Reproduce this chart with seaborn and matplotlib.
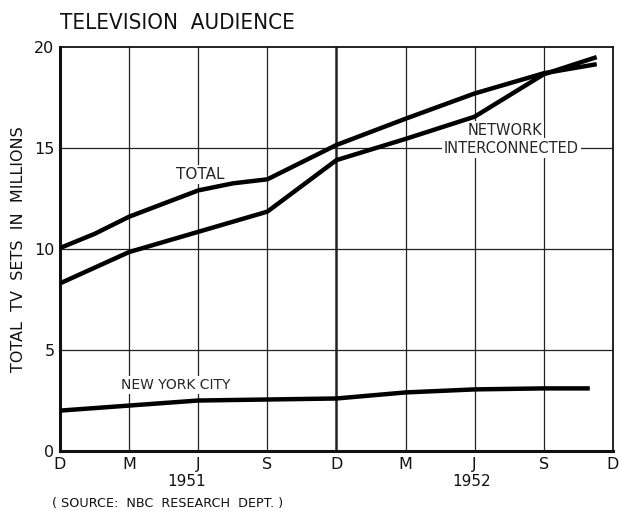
import matplotlib
matplotlib.use("Agg")
import matplotlib.pyplot as plt
import seaborn as sns
import pandas as pd

# months since Dec 1950
total_months = [0, 1.5, 3, 6, 7.5, 9, 12, 15, 18, 21, 23.3]
total_vals = [10.05, 10.75, 11.6, 12.9, 13.25, 13.45, 15.15, 16.45, 17.7, 18.7, 19.15]

network_months = [0, 3, 6, 9, 12, 15, 18, 21, 23.3]
network_vals = [8.3, 9.85, 10.85, 11.85, 14.4, 15.45, 16.55, 18.65, 19.5]

nyc_months = [0, 3, 6, 9, 12, 15, 18, 21, 23.0]
nyc_vals = [2.0, 2.25, 2.5, 2.55, 2.6, 2.9, 3.05, 3.1, 3.1]

x_ticks = [0, 3, 6, 9, 12, 15, 18, 21, 24]
x_labels = ["D", "M", "J", "S", "D", "M", "J", "S", "D"]
y_ticks = [0, 5, 10, 15, 20]
years = ["1951", "1952"]

df = pd.concat([
    pd.DataFrame({"month": total_months, "sets": total_vals, "series": "TOTAL"}),
    pd.DataFrame({"month": network_months, "sets": network_vals, "series": "NETWORK"}),
    pd.DataFrame({"month": nyc_months, "sets": nyc_vals, "series": "NYC"}),
])

sns.set_style("white")
plt.rcParams["font.family"] = ["DejaVu Sans"]

fig = plt.figure(figsize=(6.19, 5.11), dpi=100)
ax = fig.add_axes([0.097, 0.1174, 0.893, 0.7906])

sns.lineplot(data=df, x="month", y="sets", units="series", estimator=None,
             color="black", linewidth=3.2, ax=ax, zorder=4, sort=False,
             solid_capstyle="butt", solid_joinstyle="round")

ax.set_xlim(0, 24)
ax.set_ylim(0, 20)
ax.set_xticks(x_ticks)
ax.set_xticklabels(x_labels, fontsize=11.5)
ax.set_yticks(y_ticks)
ax.set_yticklabels([str(v) for v in y_ticks], fontsize=11.5)
ax.tick_params(length=0, pad=4, colors="#111111")

for x in x_ticks[1:-1]:
    ax.axvline(x, color="#222222", lw=1.8 if x == 12 else 0.9, zorder=1)
for y in y_ticks[1:-1]:
    ax.axhline(y, color="#222222", lw=0.9, zorder=1)

for side, lw in [("left", 2.2), ("bottom", 2.2), ("top", 1.3), ("right", 1.3)]:
    ax.spines[side].set_visible(True)
    ax.spines[side].set_color("#111111")
    ax.spines[side].set_linewidth(lw)

ax.set_xlabel("")
ax.set_ylabel("TOTAL  TV  SETS  IN  MILLIONS", fontsize=11.5, labelpad=6, color="#111111")

bbox = dict(facecolor="white", edgecolor="none", pad=1.5)
ax.text(6.1, 13.7, "TOTAL", fontsize=11, ha="center", va="center", bbox=bbox, zorder=3)
ax.text(19.3, 15.85, "NETWORK", fontsize=10.5, ha="center", va="center", bbox=bbox, zorder=3)
ax.text(19.6, 15.0, "INTERCONNECTED", fontsize=10.5, ha="center", va="center", bbox=bbox, zorder=3)
ax.text(5.0, 3.25, "NEW YORK CITY", fontsize=10, ha="center", va="center", bbox=bbox, zorder=3)

fig.text(0.097, 0.955, "TELEVISION  AUDIENCE", fontsize=16, ha="left", va="center",
         color="#111111", fontstretch="condensed")
fig.text(187 / 619, 1 - 482 / 511, years[0], fontsize=11, ha="center", va="center", color="#111111")
fig.text(472 / 619, 1 - 482 / 511, years[1], fontsize=11, ha="center", va="center", color="#111111")
fig.text(52 / 619, 1 - 503 / 511, "( SOURCE:  NBC  RESEARCH  DEPT. )", fontsize=9.2, ha="left",
         va="center", color="#111111")

fig.savefig("out.png", dpi=100)
